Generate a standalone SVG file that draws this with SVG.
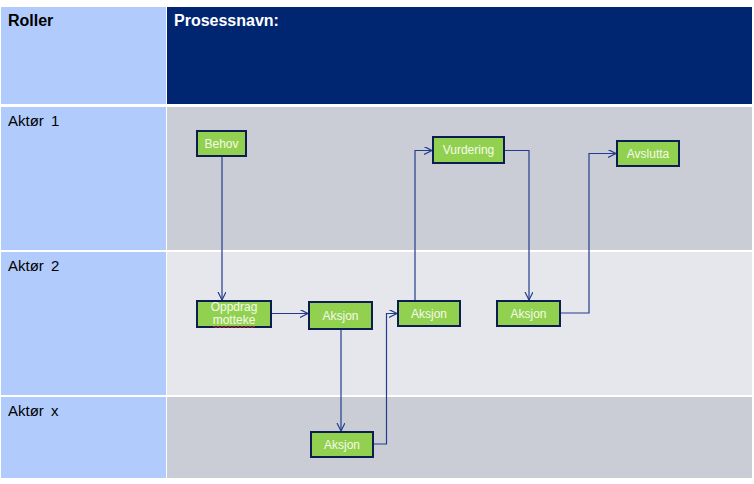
<svg xmlns="http://www.w3.org/2000/svg" width="754" height="484" viewBox="0 0 754 484">
<style>
.role{fill:#B0CBFC}
.lane1{fill:#CACDD6}
.lane2{fill:#E6E7EC}
.hdr{font-family:"Liberation Sans",Arial,sans-serif;font-size:16px;font-weight:bold}
.lbl{font-family:"Liberation Sans",Arial,sans-serif;font-size:15px;fill:#000;word-spacing:3px}
.box{fill:#92D050;stroke:#0B1E4F;stroke-width:2}
.nt{font-family:"Liberation Sans",Arial,sans-serif;font-size:12px;fill:#F4FBEA;text-anchor:middle}
.conn{fill:none;stroke:#223C8C;stroke-width:1.2}
</style>
<defs>
<marker id="arr" markerWidth="10" markerHeight="10" refX="8" refY="4" orient="auto" markerUnits="userSpaceOnUse">
<path d="M0,0 L8,4 L0,8" fill="none" stroke="#223C8C" stroke-width="1.2"/>
</marker>
</defs>
<rect width="754" height="484" fill="#FFFFFF"/>
<g id="lanes">
<rect class="role" x="1" y="7" width="165" height="97"/>
<rect x="167" y="7" width="585" height="97" fill="#002672"/>
<rect class="role" x="1" y="107" width="165" height="143"/>
<rect class="lane1" x="167" y="107" width="585" height="143"/>
<rect class="role" x="1" y="252" width="165" height="143"/>
<rect class="lane2" x="167" y="252" width="585" height="143"/>
<rect class="role" x="1" y="397" width="165" height="81"/>
<rect class="lane1" x="167" y="397" width="585" height="81"/>
<text class="hdr" x="8" y="26" fill="#000">Roller</text>
<text class="hdr" x="174" y="26" fill="#FFFFFF">Prosessnavn:</text>
<text class="lbl" x="8" y="126">Aktør 1</text>
<text class="lbl" x="8" y="271">Aktør 2</text>
<text class="lbl" x="8" y="416">Aktør x</text>
</g>
<g id="connectors">
<path class="conn" d="M222,156 V300" marker-end="url(#arr)"/>
<path class="conn" d="M271,313.5 H308" marker-end="url(#arr)"/>
<path class="conn" d="M341,329 V431" marker-end="url(#arr)"/>
<path class="conn" d="M373,444 H386.5 V313.5 H397" marker-end="url(#arr)"/>
<path class="conn" d="M415,301 V150.5 H432" marker-end="url(#arr)"/>
<path class="conn" d="M504,150.5 H529 V300" marker-end="url(#arr)"/>
<path class="conn" d="M560,313 H589 V153.5 H616" marker-end="url(#arr)"/>
</g>
<g id="behov">
<rect class="box" x="197" y="131" width="49" height="25"/>
<text class="nt" x="221.5" y="148">Behov</text>
</g>
<g id="oppdrag">
<rect class="box" x="197" y="301" width="74" height="26"/>
<text class="nt" x="234" y="311">Oppdrag</text>
<text class="nt" x="234" y="323.5">motteke</text>
<path d="M213,327 q1,-1.5 2,0 t2,0 t2,0 t2,0 t2,0 t2,0 t2,0 t2,0 t2,0 t2,0 t2,0 t2,0 t2,0 t2,0 t2,0 t2,0 t2,0 t2,0 t2,0 t2,0 t2,0" fill="none" stroke="#E03030" stroke-width="0.8"/>
</g>
<g id="aksjon1">
<rect class="box" x="309" y="302" width="63" height="27"/>
<text class="nt" x="340.5" y="319.5">Aksjon</text>
</g>
<g id="aksjonx">
<rect class="box" x="311" y="432" width="62" height="25"/>
<text class="nt" x="342" y="449">Aksjon</text>
</g>
<g id="aksjon2">
<rect class="box" x="398" y="301" width="62" height="25"/>
<text class="nt" x="429" y="318">Aksjon</text>
</g>
<g id="vurdering">
<rect class="box" x="433" y="137" width="71" height="26"/>
<text class="nt" x="468.5" y="154">Vurdering</text>
</g>
<g id="aksjon3">
<rect class="box" x="497" y="301" width="63" height="25"/>
<text class="nt" x="528.5" y="318">Aksjon</text>
</g>
<g id="avslutta">
<rect class="box" x="617" y="141" width="62" height="25"/>
<text class="nt" x="648" y="158">Avslutta</text>
</g>
</svg>
